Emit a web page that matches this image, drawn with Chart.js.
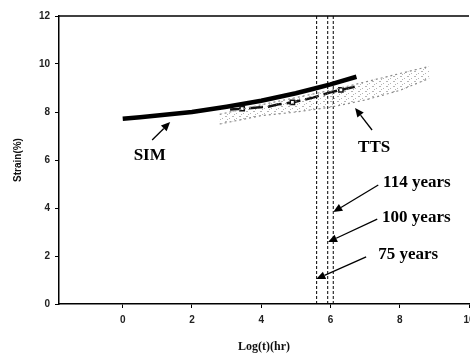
<!DOCTYPE html>
<html>
<head>
<meta charset="utf-8">
<script src="https://cdn.jsdelivr.net/npm/chart.js@4/dist/chart.umd.min.js"></script>
<style>
    body { margin: 0; background: #fff; overflow: hidden; }
    #wrap { width: 500px; height: 354px; }
</style>
</head>
<body>
<div id="wrap"><canvas id="chart" width="500" height="354"></canvas></div>
<script>
// Log(t) in hr, strain in %
const simX = [0, 0.5, 1, 2, 3, 4, 5, 5.6, 6, 6.75];
const simY = [7.72, 7.78, 7.85, 8.0, 8.22, 8.47, 8.78, 9.0, 9.15, 9.47];

const sqX = [3.1, 3.45, 4.2, 4.5, 4.9, 5.5, 6.0, 6.3, 6.7];
const sqY = [8.1, 8.14, 8.22, 8.32, 8.4, 8.6, 8.82, 8.92, 9.05];

const ttsX = [2.8, 4, 5, 6, 7, 8, 8.85];
const ttsUpper = [7.9, 8.3, 8.6, 8.9, 9.25, 9.6, 9.9];
const ttsLower = [7.5, 7.85, 8.0, 8.2, 8.5, 8.9, 9.4];

const yearLines = [5.6, 5.92, 6.08];

const xTicks = [0, 2, 4, 6, 8, 10];

// text labels with arrows, in data coordinates: [label, textX, textY, tailX, tailY, headX, headY, align]
const notes = [
    ['SIM', 0.78, 6.17, 0.85, 6.83, 1.37, 7.58, 'center'],
    ['TTS', 7.26, 6.5, 7.2, 7.25, 6.71, 8.17, 'center'],
    ['114 years', 7.52, 5.04, 7.38, 4.96, 6.08, 3.83, 'left'],
    ['100 years', 7.49, 3.58, 7.35, 3.54, 5.93, 2.58, 'left'],
    ['75 years', 7.38, 2.04, 7.03, 1.96, 5.59, 1.04, 'left']
];

const pts = (xs, ys) => xs.map((x, i) => ({x: x, y: ys[i]}));

// speckled fill for the TTS band
function speckle() {
    const c = document.createElement('canvas');
    c.width = 7;
    c.height = 5;
    const g = c.getContext('2d');
    g.fillStyle = 'rgba(120,120,120,0.55)';
    g.fillRect(1, 1, 2, 1);
    g.fillRect(5, 3, 1, 1);
    g.fillRect(3, 4, 1, 1);
    return g.createPattern(c, 'repeat');
}

const datasets = [
    {
        data: pts(ttsX, ttsUpper),
        borderColor: '#8a8a8a',
        borderWidth: 1.2,
        borderDash: [2, 3],
        pointRadius: 0,
        showLine: true
    },
    {
        data: pts(ttsX, ttsLower),
        borderColor: '#8a8a8a',
        borderWidth: 1.2,
        borderDash: [2, 3],
        pointRadius: 0,
        showLine: true,
        fill: '-1',
        backgroundColor: speckle()
    },
    {
        data: pts(sqX, sqY),
        borderColor: '#111',
        borderWidth: 2.5,
        borderDash: [14, 5],
        pointStyle: 'rect',
        pointRadius: sqX.map((x, i) => (i % 3 === 1 ? 3 : 0)),
        pointBackgroundColor: '#fff',
        pointBorderColor: '#111',
        pointBorderWidth: 1.5,
        showLine: true
    },
    {
        data: pts(simX, simY),
        borderColor: '#000',
        borderWidth: 4.5,
        pointRadius: 0,
        showLine: true
    }
];

for (const x of yearLines) {
    datasets.push({
        data: [{x: x, y: 0}, {x: x, y: 12}],
        borderColor: '#000',
        borderWidth: 1,
        borderDash: [3, 2],
        pointRadius: 0,
        showLine: true
    });
}

const notesPlugin = {
    id: 'notes',
    afterDatasetsDraw(chart) {
        const ctx = chart.ctx;
        const xs = chart.scales.x;
        const ys = chart.scales.y;
        const area = chart.chartArea;
        ctx.save();
        // top frame line
        ctx.strokeStyle = '#000';
        ctx.lineWidth = 1.5;
        ctx.beginPath();
        ctx.moveTo(area.left, area.top);
        ctx.lineTo(area.right, area.top);
        ctx.stroke();

        ctx.fillStyle = '#000';
        ctx.font = 'bold 17px "Liberation Serif", "Times New Roman", serif';
        ctx.textBaseline = 'middle';
        for (const n of notes) {
            const [label, tx, ty, ax, ay, hx, hy, align] = n;
            ctx.textAlign = align;
            ctx.fillText(label, xs.getPixelForValue(tx), ys.getPixelForValue(ty));

            const x1 = xs.getPixelForValue(ax), y1 = ys.getPixelForValue(ay);
            const x2 = xs.getPixelForValue(hx), y2 = ys.getPixelForValue(hy);
            const ang = Math.atan2(y2 - y1, x2 - x1);
            const len = 9, wid = 4;
            ctx.lineWidth = 1.3;
            ctx.beginPath();
            ctx.moveTo(x1, y1);
            ctx.lineTo(x2 - Math.cos(ang) * len, y2 - Math.sin(ang) * len);
            ctx.stroke();
            ctx.beginPath();
            ctx.moveTo(x2, y2);
            ctx.lineTo(x2 - Math.cos(ang) * len - Math.sin(ang) * wid, y2 - Math.sin(ang) * len + Math.cos(ang) * wid);
            ctx.lineTo(x2 - Math.cos(ang) * len + Math.sin(ang) * wid, y2 - Math.sin(ang) * len - Math.cos(ang) * wid);
            ctx.closePath();
            ctx.fill();
        }
        ctx.restore();
    }
};

new Chart(document.getElementById('chart'), {
    type: 'scatter',
    data: { datasets: datasets },
    options: {
        responsive: false,
        animation: false,
        devicePixelRatio: 1,
        layout: { padding: { left: 0, top: 16, right: 31, bottom: 0 } },
        plugins: { legend: { display: false }, tooltip: { enabled: false } },
        scales: {
            x: {
                type: 'linear',
                min: -1.84,
                max: 10,
                afterBuildTicks: (scale) => { scale.ticks = xTicks.map(v => ({value: v})); },
                afterFit: (scale) => { scale.height = 50; },
                grid: { drawOnChartArea: false, drawTicks: true, tickLength: 4, color: '#000' },
                border: { color: '#000', width: 1.5 },
                ticks: { color: '#222', padding: 6, font: { family: 'Arial, "Liberation Sans"', size: 10, weight: 'bold' } },
                title: {
                    display: true,
                    text: 'Log(t)(hr)',
                    color: '#111',
                    padding: { top: 6, bottom: 0 },
                    font: { family: '"Liberation Serif", "Times New Roman", serif', size: 12, weight: 'bold' }
                }
            },
            y: {
                min: 0,
                max: 12,
                ticks: { stepSize: 2, color: '#222', padding: 5, font: { family: 'Arial, "Liberation Sans"', size: 10, weight: 'bold' } },
                afterFit: (scale) => { scale.width = 59; },
                grid: { drawOnChartArea: false, drawTicks: true, tickLength: 4, color: '#000' },
                border: { color: '#000', width: 1.5 },
                title: {
                    display: true,
                    text: 'Strain(%)',
                    color: '#111',
                    padding: { top: 12, bottom: 0 },
                    font: { family: 'Arial, "Liberation Sans"', size: 10, weight: 'bold' }
                }
            }
        }
    },
    plugins: [notesPlugin]
});
</script>
</body>
</html>
